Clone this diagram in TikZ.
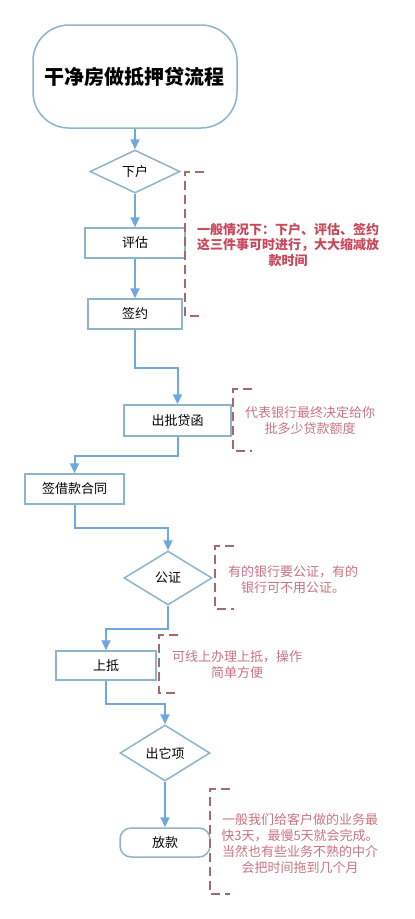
\documentclass[tikz,border=0pt]{standalone}
\usepackage{fontspec}
\setmainfont{Noto Sans CJK SC}
\usetikzlibrary{shapes.geometric,arrows.meta}
\definecolor{boxline}{HTML}{8DB4C9}
\definecolor{flow}{HTML}{6FA8DC}
\definecolor{brk}{HTML}{9E6A76}
\definecolor{notered}{HTML}{C8485A}
\definecolor{notepink}{HTML}{C97482}
\tikzstyle{stepbox}=[draw=boxline, line width=1.5pt, fill=white, inner sep=0pt, font=\fontsize{13}{15}\selectfont]
\tikzstyle{decide}=[stepbox, diamond]
\tikzstyle{flowline}=[draw=flow, line width=2pt, -{Triangle[width=9pt,length=10pt]}]
\tikzstyle{bracket}=[draw=brk, line width=1.6pt, dash pattern=on 9pt off 5pt]
\tikzstyle{note}=[align=center, text=notepink, font=\fontsize{13}{16}\selectfont]

\begin{document}
\begin{tikzpicture}[x=1pt, y=-1pt]
            \useasboundingbox[fill=white] (0,0) rectangle (415,919);

            \begin{scope}[every node/.style={stepbox}]
                \node[rounded corners=36pt, minimum width=204pt, minimum height=103pt,
                      font=\fontsize{20}{24}\selectfont\bfseries] (0) at (135,76.5) {干净房做抵押贷流程};
                \node[diamond, minimum width=90pt, minimum height=43pt] (1) at (135,171.5) {下户};
                \node[minimum width=100pt, minimum height=30pt] (2) at (135,243) {评估};
                \node[minimum width=94pt, minimum height=30pt] (3) at (135,314) {签约};
                \node[minimum width=107pt, minimum height=31pt] (4) at (177.5,420.5) {出批贷函};
                \node[minimum width=99pt, minimum height=30pt] (5) at (74.5,489) {签借款合同};
                \node[diamond, minimum width=88pt, minimum height=54pt] (6) at (168,578) {公证};
                \node[minimum width=100pt, minimum height=29pt] (7) at (106,665.5) {上抵};
                \node[diamond, minimum width=90pt, minimum height=56pt] (8) at (165,753) {出它项};
                \node[rounded corners=11pt, minimum width=90pt, minimum height=29pt] (9) at (165,842.5) {放款};
            \end{scope}

            \begin{scope}[every path/.style={flowline}]
                \path (0) -- (1);
                \path (1) -- (2);
                \path (2) -- (3);
                \path (3.south) -- ++(0,38) -| (4.north);
                \path (4.south) -- ++(0,19) -| (5.north);
                \path (5.south) -- ++(0,23) -| (6.north);
                \path (6.south) -- ++(0,23) -| (7.north);
                \path (7.south) -- ++(0,23) -| (8.north);
                \path (8) -- (9);
            \end{scope}

            % dashed brackets beside the steps
            \begin{scope}[every path/.style={bracket}]
                \path (204,172) -- (185,172) -- (185,316) -- (204,316);
                \path (252,389) -- (233,389) -- (233,451) -- (252,451);
                \path (234,546) -- (215,546) -- (215,609) -- (234,609);
                \path (178,635) -- (159,635) -- (159,693) -- (178,693);
                \path (230,789) -- (210,789) -- (210,894) -- (230,894);
            \end{scope}

            \begin{scope}[every node/.style={note}]
                \node[text=notered, font=\fontsize{13}{15.5}\selectfont\bfseries] (n1) at (288,245)
                    {一般情况下：下户、评估、签约\\这三件事可时进行，大大缩减放\\款时间};
                \node (n2) at (310,421) {代表银行最终决定给你\\批多少贷款额度};
                \node (n3) at (293,580) {有的银行要公证，有的\\银行可不用公证。};
                \node (n4) at (237,665) {可线上办理上抵，操作\\简单方便};
                \node (n5) at (300,844) {一般我们给客户做的业务最\\快3天，最慢5天就会完成。\\当然也有些业务不熟的中介\\会把时间拖到几个月};
            \end{scope}
        \end{tikzpicture}
\end{document}
